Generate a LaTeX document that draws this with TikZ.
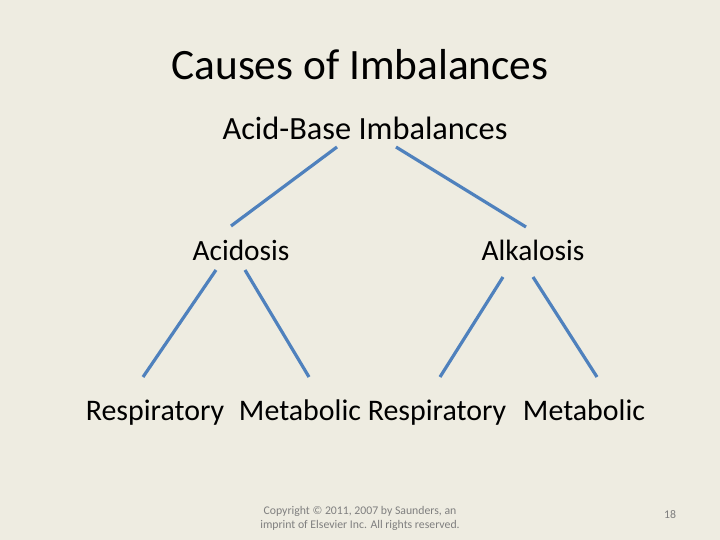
\documentclass[tikz,border=0pt]{standalone}
\usepackage{fontspec}
\setmainfont{Carlito}
\usepackage{xcolor}
\usepackage{tikz}
\usetikzlibrary{calc}
\definecolor{bg}{HTML}{EEECE1}
\definecolor{link}{HTML}{4F81BD}
\definecolor{text}{HTML}{000000}
\definecolor{muted}{HTML}{7F7F7F}
\tikzset{
  edge/.style={draw=link, line width=3.2bp, line cap=butt},
  ttl/.style={text=text, font=\fontsize{43.5}{50}\selectfont, anchor=base, inner sep=0pt},
  lab/.style={text=text, font=\fontsize{30}{36}\selectfont, anchor=base, inner sep=0pt},
  foot/.style={text=muted, font=\fontsize{11.8}{14}\selectfont, inner sep=0pt},
}
\begin{document}
\begin{tikzpicture}[x=1bp,y=-1bp]
  \fill[bg] (0,0) rectangle (720,540);
  \useasboundingbox (0,0) rectangle (720,540);

  \node[ttl] (title) at (360,80) {Causes of Imbalances};
  \node[lab, font=\fontsize{32.5}{38}\selectfont] (root) at (365,140) {Acid-Base Imbalances};
  \node[lab, font=\fontsize{29.5}{36}\selectfont] (acid) at (241,261) {Acidosis};
  \node[lab, font=\fontsize{29.5}{36}\selectfont] (alk) at (533,261) {Alkalosis};
  \node[lab] (resp1) at (155,420) {Respiratory};
  \node[lab] (met1) at (300,420) {Metabolic};
  \node[lab] (resp2) at (437,420) {Respiratory};
  \node[lab] (met2) at (584,420) {Metabolic};

  \draw[edge] ($(root.base)+(-28,7)$) -- ($(acid.base)+(-10,-35)$);
  \draw[edge] ($(root.base)+(31,7)$) -- ($(alk.base)+(-7,-34)$);
  \draw[edge] ($(acid.base)+(-25,9)$) -- ($(resp1.base)+(-12,-43)$);
  \draw[edge] ($(acid.base)+(4,9)$) -- ($(met1.base)+(9,-43)$);
  \draw[edge] ($(alk.base)+(-30,16)$) -- ($(resp2.base)+(3,-43)$);
  \draw[edge] ($(alk.base)+(0,16)$) -- ($(met2.base)+(13,-43)$);

  \node[foot, align=center] (copy) at (360,518) {Copyright \textcopyright{} 2011, 2007 by Saunders, an\\imprint of Elsevier Inc. All rights reserved.};
  \node[foot] (page) at (670,515) {18};
\end{tikzpicture}
\end{document}
